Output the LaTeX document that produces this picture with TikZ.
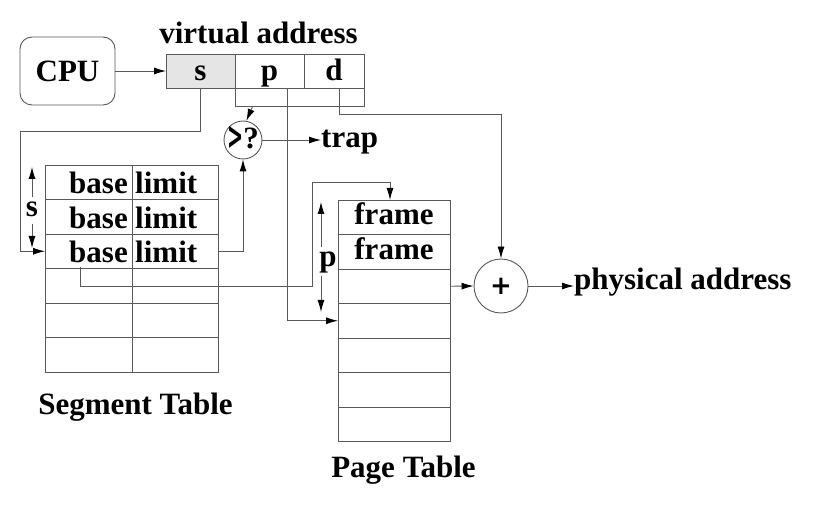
\documentclass[tikz,border=0pt]{standalone}
\usepackage{fontspec}
\usepackage{graphicx}
\setmainfont{Liberation Serif}
\newfontfamily\dvsans{DejaVu Sans}
\usetikzlibrary{arrows.meta,calc}
\begin{document}
\begin{tikzpicture}[x=1pt,y=-1pt,
  ln/.style={draw=black!65, line width=0.9pt},
  arr/.style={ln, -{Latex[length=12pt,width=7pt,color=black]}},
  cell/.style={ln, minimum height=34.5pt, inner sep=0pt, outer sep=0pt},
  txt/.style={font=\fontsize{31}{37}\selectfont\bfseries, inner sep=0pt},
]
\useasboundingbox (0,0) rectangle (815,513);

% CPU and virtual address
\node[ln, rounded corners=12pt, minimum width=95pt, minimum height=68pt, inner sep=0pt,
      font=\fontsize{31}{37}\selectfont\bfseries] (cpu) at (67.5,71) {CPU};
\node[cell, fill=black!10, minimum width=69pt, minimum height=34pt] (s) at (200.5,71) {};
\node[cell, minimum width=69pt, minimum height=34pt] (p) at (269.5,71) {};
\node[cell, minimum width=60pt, minimum height=34pt] (d) at (334,71) {};
\node[txt, anchor=base] (st) at (200.5,81) {s};
\node[txt, anchor=base] (ptx) at (269.5,81) {p};
\node[txt, anchor=base] (dt) at (334,81) {d};
\node[ln, minimum width=129pt, minimum height=18pt, inner sep=0pt] (off) at (299.5,97) {};
\node[txt, anchor=base] (va) at (258.5,44) {virtual address};

% comparator
\node[ln, circle, minimum size=38pt, inner sep=0pt] (cmp) at (243,140) {};
\node[txt, anchor=base] (cmpt) at (243,149) {\raisebox{-1pt}{\scalebox{0.62}[1.25]{\dvsans\bfseries >}}?};
\node[txt, anchor=base west] (trap) at (321,148) {trap};

% segment table
\foreach \i in {1,...,6} {
  \node[cell, minimum width=87pt] (b\i) at (88.5,{182.25+(\i-1)*34.5}) {};
  \node[cell, minimum width=86pt] (l\i) at (175,{182.25+(\i-1)*34.5}) {};
}
\foreach \i in {1,2,3} {
  \node[txt, anchor=base east] (bt\i) at (128,{165+\i*34.5-5.5}) {base};
  \node[txt, anchor=base west] (lt\i) at (135,{165+\i*34.5-5.5}) {limit};
}
\node[txt, anchor=base] (segl) at (135.5,414) {Segment Table};

% page table
\foreach \i in {1,...,7} {
  \node[cell, minimum width=112pt] (pt\i) at (394,{217.25+(\i-1)*34.5}) {};
}
\foreach \i in {1,2} {
  \node[txt, anchor=base] (ft\i) at (394,{200+\i*34.5-9.5}) {frame};
}
\node[txt, anchor=base] (pagel) at (403.5,478) {Page Table};

% adder
\node[ln, circle, minimum size=54pt, inner sep=0pt] (add) at (501,286) {};
\node[font=\fontsize{26}{30}\selectfont\dvsans\bfseries, inner sep=0pt] (addt) at (501,286) {+};
\node[txt, anchor=base west] (phys) at (574,290) {physical address};

% s and p index arrows
\node[txt] (slab) at (32,209) {s};
\coordinate (sa1) at (32,197); \coordinate (sa2) at (32,167);
\coordinate (sa3) at (32,224); \coordinate (sa4) at (32,248);
\draw[arr] (sa1) -- (sa2);
\draw[arr] (sa3) -- (sa4);
\node[txt] (plab) at (328,262) {p};
\coordinate (pa1) at (321,247); \coordinate (pa2) at (321,202);
\coordinate (pa3) at (321,276); \coordinate (pa4) at (321,312);
\draw[arr] (pa1) -- (pa2);
\draw[arr] (pa3) -- (pa4);

% connectors
\draw[arr] (cpu.east) -- (s.west);
\coordinate (sturn) at (20,131);
\draw[arr] (s.south) |- (sturn) |- (b3.west);
\draw[arr] (l3.east) -| (cmp.south);
\coordinate (cmpin) at ($(off.south west)+(18,0)$);
\draw[arr] (cmpin) -- (cmp.80);
\draw[arr] (cmp.east) -- (cmp.east -| trap.west);
\coordinate (pdrop) at (287,88);
\draw[arr] (pdrop) |- (pt4.west);
\coordinate (ddrop) at (339,88);
\coordinate (dturn) at (339,114);
\draw[arr] (ddrop) -- (dturn) -| (add.north);
\coordinate (bdrop) at (80,267);
\coordinate (bturn) at (312,286);
\coordinate (ptop) at (390,182);
\coordinate (pin) at ($(pt1.north west)+(52,0)$);
\draw[arr] (bdrop) |- (bturn) |- (ptop) -- (pin);
\draw[arr] (pt3.east) -- (add.west);
\draw[arr] (add.east) -- (add.east -| phys.west);
\end{tikzpicture}
\end{document}
